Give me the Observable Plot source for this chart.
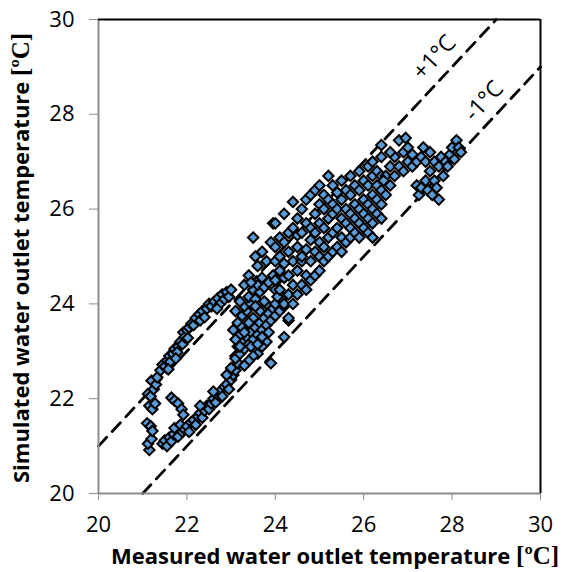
<!DOCTYPE html>
<html>
<head>
<meta charset="utf-8">
<script src="https://cdn.jsdelivr.net/npm/d3@7"></script>
<script src="https://cdn.jsdelivr.net/npm/@observablehq/plot@0.6"></script>
<style>
  html, body { margin: 0; padding: 0; background: #fff; }
  #chart { width: 565px; height: 572px; }
</style>
</head>
<body>
<div id="chart"></div>
<script>
// Axis ticks
const xTicks = [20, 22, 24, 26, 28, 30];
const yTicks = [20, 22, 24, 26, 28, 30];

// Tolerance lines: [measured, simulated] endpoints
const plusOneLine = [[20, 21], [29, 30]];
const minusOneLine = [[21, 20], [30, 29]];
const bandLabels = ["+1°C", "-1°C"];

// Scatter points [measured, simulated], grouped by region of the cloud
const leftColumn = [
  [21.15,20.92],[21.12,21.05],[21.2,21.15],[21.1,21.48],[21.18,21.42],[21.22,21.32],
  [21.15,21.85],[21.22,21.78],[21.28,21.9],[21.12,22.1],[21.18,22.05],[21.25,22.2],
  [21.2,22.38],[21.3,22.3],[21.33,22.45]
];
const upperArm = [
  [21.4,22.6],[21.45,22.72],[21.5,22.68],[21.55,22.8],[21.6,22.9],[21.62,22.78],
  [21.68,22.95],[21.72,23.05],[21.8,23.1],[21.78,22.98],[21.85,23.2],[21.9,23.15],
  [21.92,23.4],[21.95,23.3],[22.0,23.45],[22.05,23.5],[22.1,23.58],[22.15,23.55],
  [22.2,23.7],[22.28,23.78],[22.35,23.85],[22.3,23.65],[22.45,23.9],[22.5,24.0],
  [22.55,23.95],[22.62,24.05],[22.7,24.12],[22.75,24.0],[22.8,24.2],[22.85,24.1],
  [22.9,24.25],[22.95,24.15],[23.0,24.3],[21.58,22.62],[21.75,22.85],[22.02,23.28],
  [22.4,23.72],[22.68,23.9]
];
const hook = [[21.65,22.02],[21.72,21.96],[21.8,21.9],[21.88,21.78],[21.92,21.66]];
const lowerArm = [
  [21.45,21.05],[21.5,21.12],[21.55,21.0],[21.6,21.18],[21.65,21.1],[21.7,21.25],
  [21.72,21.38],[21.8,21.2],[21.85,21.45],[21.9,21.3],[21.95,21.35],[22.0,21.42],
  [22.05,21.3],[22.1,21.5],[22.15,21.55],[22.2,21.45],[22.25,21.62],[22.3,21.7],
  [22.35,21.6],[22.4,21.75],[22.45,21.85],[22.5,21.78],[22.55,21.9],[22.6,22.0],
  [22.65,21.92],[22.7,22.08],[22.75,22.15],[22.8,22.05],[22.85,22.25],[22.9,22.3],
  [22.95,22.2],[23.0,22.4],[23.05,22.5],[23.1,22.6],[23.0,22.65],[23.15,22.75],
  [23.1,22.9],[22.3,21.85],[22.6,22.15],[22.9,22.5]
];
const denseCore = [
  [23.1,22.85],[23.2,22.95],[23.15,23.1],[23.25,23.2],[23.3,23.05],[23.35,23.3],
  [23.4,23.15],[23.45,23.4],[23.5,23.25],[23.55,23.5],[23.6,23.35],[23.65,23.6],
  [23.7,23.45],[23.75,23.7],[23.8,23.55],[23.85,23.8],[23.9,23.65],[23.95,23.9],
  [24.0,23.75],[24.1,23.85],[24.2,23.95],[24.3,23.65],[24.15,24.1],[23.9,22.75],
  [23.8,23.2],[23.7,23.1],[23.6,22.95],[23.5,22.9],[23.4,22.8],[23.3,22.7],
  [23.2,23.35],[23.1,23.25],[23.05,23.45],[23.15,23.6],[23.25,23.75],[23.35,23.85],
  [23.3,23.95],[23.45,24.0],[23.4,24.15],[23.55,24.1],[23.5,24.3],[23.65,24.25],
  [23.6,24.4],[23.75,24.35],[23.7,24.55],[23.85,24.45],[23.8,24.0],[24.0,24.3],
  [23.95,24.6],[24.05,24.5],[23.2,24.05],[23.1,23.85],[23.35,23.55],[23.5,23.7],
  [23.65,23.85],[23.75,24.05],[23.25,23.5],[23.4,23.6],[23.55,23.95],[24.0,24.0],
  [24.1,24.2],[23.4,24.6],[23.5,25.4],[23.55,25.0],[23.6,24.8],[23.7,25.1],
  [23.8,24.9],[23.9,25.3],[23.95,25.7],[23.3,24.4],[23.45,24.45],[23.2,23.1],
  [23.3,23.4],[23.45,23.1],[23.6,23.15],[23.7,23.3],[23.85,23.4],[24.05,24.15]
];
const mainBand = [
  [24.0,24.5],[24.0,24.9],[24.0,25.2],[24.0,25.7],
  [24.1,24.3],[24.1,24.7],[24.1,25.0],[24.1,25.4],
  [24.2,23.3],[24.2,24.0],[24.2,24.55],[24.2,24.85],[24.2,25.3],[24.2,25.9],
  [24.3,23.7],[24.3,24.2],[24.3,24.6],[24.3,25.1],[24.3,25.5],
  [24.4,24.0],[24.4,24.4],[24.4,24.9],[24.4,25.6],[24.4,26.15],
  [24.5,24.2],[24.5,24.7],[24.5,25.2],[24.5,25.45],[24.5,25.8],
  [24.6,24.4],[24.6,24.9],[24.6,25.0],[24.6,25.5],[24.6,26.0],
  [24.7,24.3],[24.7,24.6],[24.7,25.15],[24.7,25.7],[24.7,26.2],
  [24.8,24.5],[24.8,24.9],[24.8,25.35],[24.8,25.6],[24.8,26.3],
  [24.9,24.6],[24.9,25.1],[24.9,25.5],[24.9,25.9],[24.9,26.4],
  [25.0,24.7],[25.0,25.0],[25.0,25.3],[25.0,25.7],[25.0,26.1],[25.0,26.5],
  [25.1,24.9],[25.1,25.2],[25.1,25.6],[25.1,26.0],[25.1,26.3],
  [25.2,25.0],[25.2,25.4],[25.2,25.8],[25.2,26.2],[25.2,26.7],
  [25.3,25.1],[25.3,25.5],[25.3,25.9],[25.3,26.1],[25.3,26.5],
  [25.4,25.2],[25.4,25.6],[25.4,26.0],[25.4,26.35],
  [25.5,25.1],[25.5,25.4],[25.5,25.8],[25.5,26.2],[25.5,26.6],
  [25.6,25.3],[25.6,25.7],[25.6,26.0],[25.6,26.4],
  [25.7,25.4],[25.7,25.6],[25.7,25.9],[25.7,26.3],[25.7,26.7],
  [25.8,25.5],[25.8,25.8],[25.8,26.1],[25.8,26.5],
  [25.9,25.4],[25.9,25.7],[25.9,26.0],[25.9,26.4],[25.9,26.8],
  [26.0,25.6],[26.0,25.9],[26.0,26.2],[26.0,26.6],
  [26.1,25.5],[26.1,25.8],[26.1,26.1],[26.1,26.5],[26.1,26.9],
  [26.2,25.4],[26.2,25.7],[26.2,26.0],[26.2,26.3],[26.2,26.7],[26.2,27.0],
  [26.3,25.9],[26.3,26.2],[26.3,26.5],[26.3,26.8],
  [26.4,25.8],[26.4,26.1],[26.4,26.4],[26.4,26.7],[26.4,27.1]
];
const upperRight = [
  [26.5,26.3],[26.5,26.7],[26.6,26.9],[26.6,26.5],[26.7,27.1],[26.7,26.7],
  [26.8,27.45],[26.8,26.9],[26.9,27.2],[26.9,26.8],[26.95,27.5],[27.0,27.0],
  [27.0,27.3],[27.1,26.9],[27.1,27.15],[27.2,27.0],[27.2,26.5],[27.25,26.3],
  [27.3,26.45],[27.3,27.1],[27.35,27.3],[27.4,26.6],[27.4,27.0],[27.45,26.4],
  [27.5,26.8],[27.5,27.2],[27.55,26.3],[27.6,26.6],[27.6,27.0],[27.65,26.45],
  [27.7,26.2],[27.7,26.9],[27.75,27.1],[27.8,26.7],[27.85,27.0],[27.9,26.9],
  [27.95,27.15],[28.0,27.3],[28.05,27.05],[28.1,27.45],[28.15,27.3],[28.2,27.2],
  [26.4,27.35],[26.6,27.2],[26.45,26.6]
];

const points = [...leftColumn, ...upperArm, ...hook, ...lowerArm, ...denseCore, ...mainBand, ...upperRight]
  .map(([measured, simulated]) => ({measured, simulated}));
const lines = [
  ...plusOneLine.map(([m, s]) => ({m, s, k: "plus"})),
  ...minusOneLine.map(([m, s]) => ({m, s, k: "minus"}))
];

const FONT = "Open Sans, Lato, sans-serif";
const W = 565, H = 572;
const mL = 98, mR = 25, mT = 19, mB = 79;

const plot = Plot.plot({
  width: W,
  height: H,
  marginLeft: mL,
  marginRight: mR,
  marginTop: mT,
  marginBottom: mB,
  style: {fontFamily: FONT, fontSize: "22px", color: "#000", background: "#fff"},
  x: {domain: [20, 30]},
  y: {domain: [20, 30]},
  marks: [
    Plot.axisX({ticks: xTicks, tickSize: 7, tickPadding: 16, stroke: "#8c8c8c", fill: "#000", label: null, tickFormat: d => String(d)}),
    Plot.axisY({ticks: yTicks, tickSize: 9, tickPadding: 15, stroke: "#8c8c8c", fill: "#000", label: null, tickFormat: d => String(d)}),
    Plot.line(lines, {x: "m", y: "s", z: "k", stroke: "#000", strokeWidth: 2.8, strokeDasharray: "12,8"}),
    Plot.dot(points, {x: "measured", y: "simulated", symbol: "diamond2", r: 4.7, fill: "#5b9bd5", stroke: "#000", strokeWidth: 2}),
    Plot.ruleX([20], {stroke: "#8c8c8c", strokeWidth: 2}),
    Plot.ruleY([20], {stroke: "#8c8c8c", strokeWidth: 2}),
    Plot.ruleX([30], {stroke: "#000", strokeWidth: 2}),
    Plot.ruleY([30], {stroke: "#000", strokeWidth: 2}),
    Plot.text([bandLabels[0]], {x: 27.6, y: 29.2, text: d => d, rotate: -47, fontSize: 23, fill: "#000"}),
    Plot.text([bandLabels[1]], {x: 28.72, y: 28.28, text: d => d, rotate: -47, fontSize: 23, fill: "#000"})
  ]
});

document.getElementById("chart").appendChild(plot);

// Axis titles with a serif "[ºC]" part, as in the reference
const svg = d3.select(plot);
const xt = svg.append("text")
  .attr("x", mL + (W - mL - mR) / 2 + 16)
  .attr("y", H - 8)
  .attr("text-anchor", "middle")
  .style("font-family", FONT)
  .style("font-weight", "bold")
  .style("font-size", "22px");
xt.append("tspan").text("Measured water outlet temperature ");
xt.append("tspan").style("font-family", "Liberation Serif, serif").style("font-size", "25px").text("[ºC]");

const yt = svg.append("text")
  .attr("transform", `translate(29,${mT + (H - mT - mB) / 2 + 2}) rotate(-90)`)
  .attr("text-anchor", "middle")
  .style("font-family", FONT)
  .style("font-weight", "bold")
  .style("font-size", "22px");
yt.append("tspan").text("Simulated water outlet temperature ");
yt.append("tspan").style("font-family", "Liberation Serif, serif").style("font-size", "25px").text("[ºC]");
</script>
</body>
</html>
